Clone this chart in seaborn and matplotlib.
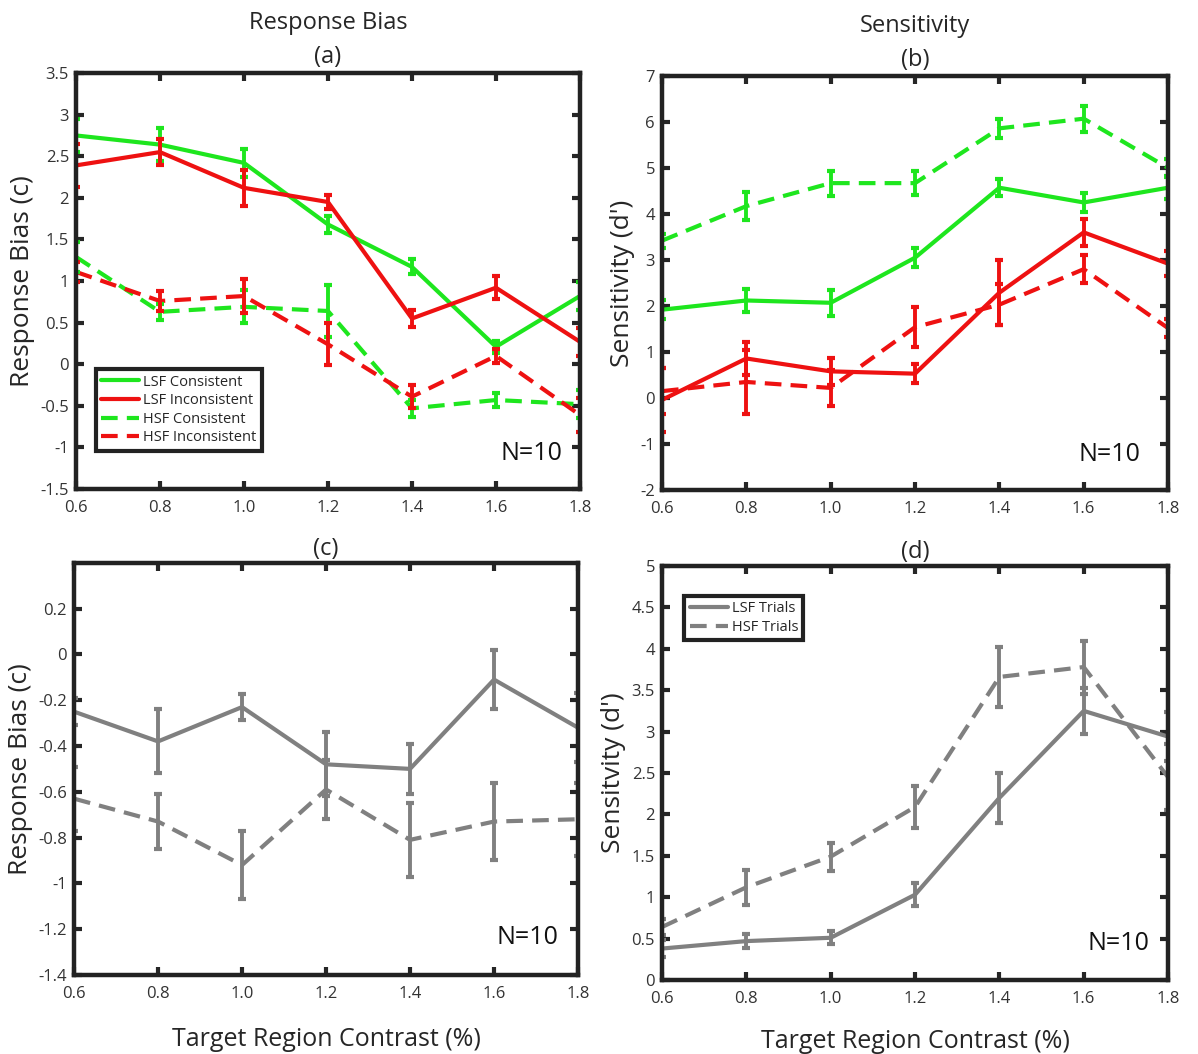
import numpy as np
import pandas as pd
import matplotlib
matplotlib.use("Agg")
import matplotlib.pyplot as plt
from matplotlib.ticker import FormatStrFormatter, FuncFormatter
import seaborn as sns

# x axis: target region contrast (%)
contrast = [0.6, 0.8, 1.0, 1.2, 1.4, 1.6, 1.8]

# (a) response bias, split by consistency
bias_lsf_con = [2.75, 2.64, 2.42, 1.68, 1.17, 0.21, 0.82]
bias_lsf_con_err = [0.20, 0.20, 0.17, 0.10, 0.09, 0.07, 0.17]
bias_lsf_inc = [2.39, 2.55, 2.12, 1.95, 0.55, 0.92, 0.27]
bias_lsf_inc_err = [0.26, 0.16, 0.22, 0.09, 0.10, 0.14, 0.17]
bias_hsf_con = [1.29, 0.63, 0.69, 0.64, -0.53, -0.43, -0.48]
bias_hsf_con_err = [0.18, 0.10, 0.20, 0.31, 0.10, 0.08, 0.17]
bias_hsf_inc = [1.11, 0.76, 0.82, 0.24, -0.39, 0.10, -0.61]
bias_hsf_inc_err = [0.12, 0.12, 0.20, 0.25, 0.14, 0.08, 0.21]

# (b) sensitivity, split by consistency
sens_lsf_con = [1.92, 2.12, 2.07, 3.05, 4.57, 4.25, 4.57]
sens_lsf_con_err = [0.20, 0.25, 0.28, 0.20, 0.18, 0.20, 0.25]
sens_lsf_inc = [-0.04, 0.86, 0.58, 0.53, 2.29, 3.60, 2.92]
sens_lsf_inc_err = [0.70, 0.35, 0.30, 0.20, 0.70, 0.30, 0.27]
sens_hsf_con = [3.42, 4.17, 4.67, 4.67, 5.86, 6.07, 5.00]
sens_hsf_con_err = [0.15, 0.30, 0.27, 0.26, 0.20, 0.28, 0.20]
sens_hsf_inc = [0.15, 0.35, 0.22, 1.54, 2.03, 2.80, 1.52]
sens_hsf_inc_err = [0.50, 0.70, 0.40, 0.43, 0.45, 0.30, 0.20]

# (c) response bias, LSF vs HSF trials
bias_lsf = [-0.25, -0.38, -0.23, -0.48, -0.50, -0.11, -0.32]
bias_lsf_err = [0.06, 0.14, 0.055, 0.14, 0.11, 0.13, 0.15]
bias_hsf = [-0.63, -0.73, -0.92, -0.59, -0.81, -0.73, -0.72]
bias_hsf_err = [0.14, 0.12, 0.15, 0.13, 0.16, 0.17, 0.16]

# (d) sensitivity, LSF vs HSF trials
sens_lsf = [0.38, 0.47, 0.51, 1.03, 2.20, 3.25, 2.94]
sens_lsf_err = [0.10, 0.08, 0.08, 0.14, 0.30, 0.28, 0.30]
sens_hsf = [0.64, 1.12, 1.49, 2.09, 3.66, 3.78, 2.45]
sens_hsf_err = [0.10, 0.21, 0.17, 0.25, 0.36, 0.32, 0.40]

sns.set_style("ticks")
plt.rcParams['font.family'] = ['Open Sans', 'DejaVu Sans']

GREEN = '#1ee61e'
RED = '#ee1111'
GRAY = '#808080'
DASH = (4, 2.2)
LW = 3.0

fig = plt.figure(figsize=(11.98, 10.54), dpi=100)
ax_a = fig.add_axes([0.0634, 0.536, 0.4207, 0.3947])
ax_b = fig.add_axes([0.5526, 0.535, 0.4224, 0.393])
ax_c = fig.add_axes([0.0618, 0.075, 0.4207, 0.391])
ax_d = fig.add_axes([0.5526, 0.0702, 0.4224, 0.3928])


def draw(ax, series):
    # series: list of (label, values, errors, color, dashed)
    rows = []
    for lab, vals, errs, col, dashed in series:
        for x, v in zip(contrast, vals):
            rows.append({'contrast': x, 'value': v, 'series': lab})
    df = pd.DataFrame(rows)
    labels = [s[0] for s in series]
    sns.lineplot(data=df, x='contrast', y='value', hue='series', style='series',
                 hue_order=labels, style_order=labels,
                 palette={s[0]: s[3] for s in series},
                 dashes={s[0]: (DASH if s[4] else '') for s in series},
                 lw=LW, legend=False, ax=ax)
    handles = list(ax.lines[-len(series):])
    for lab, vals, errs, col, dashed in series:
        ax.errorbar(contrast, vals, yerr=errs, fmt='none', ecolor=col,
                    elinewidth=2.8, capsize=3, capthick=3)
    return handles, labels


def style(ax, ylim, yticks):
    ax.set_xlim(0.6, 1.8)
    ax.set_ylim(*ylim)
    ax.set_xticks(contrast)
    ax.set_yticks(yticks)
    ax.xaxis.set_major_formatter(FormatStrFormatter('%.1f'))
    ax.yaxis.set_major_formatter(FuncFormatter(lambda v, p: '%g' % (round(v, 2) + 0.0)))
    ax.tick_params(direction='in', length=6, width=3, top=True, right=True,
                   labelsize=12, labelcolor='#333333', pad=5)
    ax.tick_params(axis='x', pad=8)
    for sp in ax.spines.values():
        sp.set_linewidth(3.2)
        sp.set_color('#222222')
    ax.set_xlabel('')
    ax.set_ylabel('')


h, l = draw(ax_a, [
    ('LSF Consistent', bias_lsf_con, bias_lsf_con_err, GREEN, False),
    ('LSF Inconsistent', bias_lsf_inc, bias_lsf_inc_err, RED, False),
    ('HSF Consistent', bias_hsf_con, bias_hsf_con_err, GREEN, True),
    ('HSF Inconsistent', bias_hsf_inc, bias_hsf_inc_err, RED, True),
])
style(ax_a, (-1.5, 3.5), np.arange(-1.5, 3.51, 0.5))
leg = ax_a.legend(h, l, loc='lower left', bbox_to_anchor=(0.025, 0.075), fontsize=10.5,
                  fancybox=False, framealpha=1, edgecolor='#222222', handlelength=2.6,
                  handletextpad=0.3, labelspacing=0.25, borderpad=0.35)
leg.get_frame().set_linewidth(3)
ax_a.set_ylabel('Response Bias (c)', fontsize=19, labelpad=4)
ax_a.set_title('Response Bias\n(a)', fontsize=17, linespacing=1.55, pad=7)

draw(ax_b, [
    ('LSF Consistent', sens_lsf_con, sens_lsf_con_err, GREEN, False),
    ('LSF Inconsistent', sens_lsf_inc, sens_lsf_inc_err, RED, False),
    ('HSF Consistent', sens_hsf_con, sens_hsf_con_err, GREEN, True),
    ('HSF Inconsistent', sens_hsf_inc, sens_hsf_inc_err, RED, True),
])
style(ax_b, (-2, 7), np.arange(-2, 7.1, 1))
ax_b.set_ylabel("Sensitivity (d')", fontsize=19, labelpad=4)
ax_b.set_title('Sensitivity\n(b)', fontsize=17, linespacing=1.55, pad=7)

draw(ax_c, [
    ('LSF Trials', bias_lsf, bias_lsf_err, GRAY, False),
    ('HSF Trials', bias_hsf, bias_hsf_err, GRAY, True),
])
style(ax_c, (-1.4, 0.4), np.arange(-1.4, 0.21, 0.2))
ax_c.set_ylabel('Response Bias (c)', fontsize=19, labelpad=4)
ax_c.set_title('(c)', fontsize=17, pad=6)
ax_c.set_xlabel('Target Region Contrast (%)', fontsize=18, labelpad=18)

h, l = draw(ax_d, [
    ('LSF Trials', sens_lsf, sens_lsf_err, GRAY, False),
    ('HSF Trials', sens_hsf, sens_hsf_err, GRAY, True),
])
style(ax_d, (0, 5), np.arange(0, 5.01, 0.5))
leg = ax_d.legend(h, l, loc='upper left', bbox_to_anchor=(0.03, 0.945), fontsize=10.5,
                  fancybox=False, framealpha=1, edgecolor='#222222', handlelength=2.6,
                  handletextpad=0.3, labelspacing=0.25, borderpad=0.35)
leg.get_frame().set_linewidth(3)
ax_d.set_ylabel("Sensitvity (d')", fontsize=19, labelpad=4)
ax_d.set_title('(d)', fontsize=17, pad=6)
ax_d.set_xlabel('Target Region Contrast (%)', fontsize=18, labelpad=16)

for ax, xy in [(ax_a, (0.965, 0.085)), (ax_b, (0.945, 0.085)),
               (ax_c, (0.96, 0.092)), (ax_d, (0.964, 0.087))]:
    ax.text(xy[0], xy[1], 'N=10', transform=ax.transAxes, ha='right', va='center',
            fontsize=18, color='#111111')

fig.savefig('out.png', dpi=100)
